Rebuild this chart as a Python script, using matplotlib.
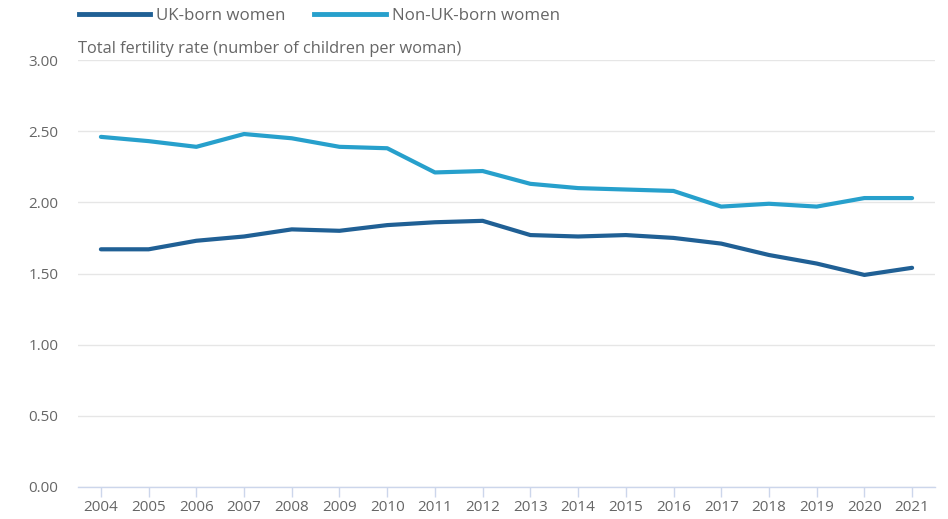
import matplotlib.pyplot as plt
from matplotlib.lines import Line2D

plt.rcParams['font.family'] = ['Open Sans', 'DejaVu Sans']

years = list(range(2004, 2022))
uk_born = [1.67, 1.67, 1.73, 1.76, 1.81, 1.80, 1.84, 1.86, 1.87, 1.77, 1.76, 1.77, 1.75, 1.71, 1.63, 1.57, 1.49, 1.54]
non_uk_born = [2.46, 2.43, 2.39, 2.48, 2.45, 2.39, 2.38, 2.21, 2.22, 2.13, 2.10, 2.09, 2.08, 1.97, 1.99, 1.97, 2.03, 2.03]
y_ticks = [0.0, 0.5, 1.0, 1.5, 2.0, 2.5, 3.0]

uk_col = '#206095'
non_uk_col = '#27a0cc'
text_col = '#666666'

W, H = 948, 519
fig = plt.figure(figsize=(W / 100, H / 100), dpi=100)
ax = fig.add_axes([78 / W, (H - 487) / H, (935 - 78) / W, (487 - 60) / H])

ax.plot(years, uk_born, color=uk_col, lw=3, solid_capstyle='round', solid_joinstyle='round', zorder=3)
ax.plot(years, non_uk_born, color=non_uk_col, lw=3, solid_capstyle='round', solid_joinstyle='round', zorder=3)

ax.set_xlim(2003.52, 2021.48)
ax.set_ylim(0, 3)
ax.set_yticks(y_ticks)
ax.set_yticklabels(['%.2f' % v for v in y_ticks])
ax.set_xticks(years)
ax.set_xticklabels([str(y) for y in years])

ax.grid(axis='y', color='#e6e6e6', lw=1)
ax.set_axisbelow(True)
for s in ['top', 'right', 'left']:
    ax.spines[s].set_visible(False)
ax.spines['bottom'].set_color('#ccd6eb')
ax.spines['bottom'].set_linewidth(1)

ax.tick_params(axis='y', length=0, pad=14, labelsize=11, labelcolor=text_col)
ax.tick_params(axis='x', length=7.5, width=1, color='#ccd6eb', pad=2, labelsize=11, labelcolor=text_col)

fig.text(78 / W, 1 - 49 / H, 'Total fertility rate (number of children per woman)',
         fontsize=11.8, color=text_col, ha='left', va='center')

handles = [Line2D([], [], color=uk_col, lw=3.5), Line2D([], [], color=non_uk_col, lw=3.5)]
fig.legend(handles, ['UK-born women', 'Non-UK-born women'], loc='center left',
           bbox_to_anchor=(79 / W, 1 - 16 / H), ncol=2, frameon=False,
           fontsize=12.2, labelcolor=text_col, handlelength=4.2, handletextpad=0.36,
           columnspacing=1.7, borderaxespad=0, borderpad=0)

fig.savefig('out.png', dpi=100)
